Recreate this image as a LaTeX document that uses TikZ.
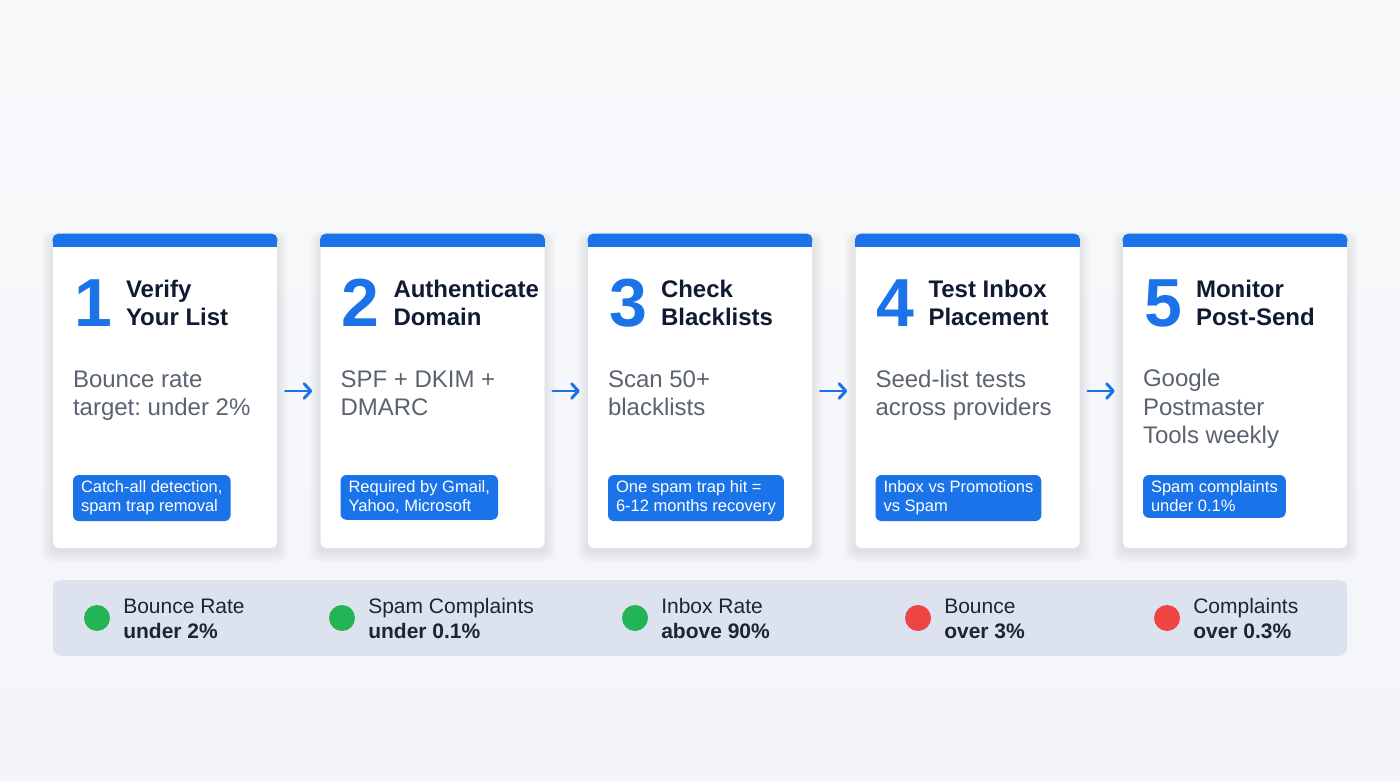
\documentclass[tikz,border=0pt]{standalone}
\usepackage{fontspec}
\setmainfont{Liberation Sans}
\usetikzlibrary{calc,arrows.meta}
\frenchspacing

\definecolor{pagebg}{HTML}{F3F5F9}
\definecolor{pagetop}{HTML}{F8F9FB}
\definecolor{accent}{HTML}{1A73E8}
\definecolor{titleink}{HTML}{111A33}
\definecolor{bodyink}{HTML}{5B6371}
\definecolor{stripbg}{HTML}{DDE3EE}
\definecolor{okdot}{HTML}{22B455}
\definecolor{baddot}{HTML}{EF4444}
\definecolor{stripink}{HTML}{1F2433}

\tikzset{
  card/.style={fill=white, rounded corners=4pt, minimum width=168pt, minimum height=235.5pt, inner sep=0pt},
  stepnum/.style={anchor=base west, inner sep=0pt, text=accent, font=\fontsize{51}{51}\selectfont\bfseries},
  steptitle/.style={anchor=base west, inner sep=0pt, align=left, text=titleink, font=\fontsize{18}{21}\selectfont\bfseries},
  stepbody/.style={anchor=base west, inner sep=0pt, align=left, text=bodyink, font=\fontsize{18}{21.5}\selectfont},
  steptag/.style={anchor=north west, fill=accent, text=white, rounded corners=4.5pt, inner xsep=6pt, inner ysep=4.5pt,
    align=left, font=\fontsize{12.4}{14}\selectfont},
  flow/.style={draw=accent, line width=2.2pt, line cap=round, -{Straight Barb[length=5pt,width=11pt,round]},
    shorten <=6pt, shorten >=6pt},
  dot/.style={circle, minimum size=19.5pt, inner sep=0pt},
  gauge/.style={anchor=base west, inner sep=0pt, align=left, text=stripink, font=\fontsize{15.75}{18.75}\selectfont}
}

\begin{document}
\begin{tikzpicture}[x=0.75pt, y=-0.75pt]
  \useasboundingbox (0,0) rectangle (1400,781);
  \shade[top color=pagetop, bottom color=pagebg] (0,0) rectangle (1400,781);

  % step cards (multi-line nodes sit on their last baseline)
  \foreach \i/\num/\head/\body/\nb/\tag in {
      1/1/{Verify\\Your List}/{Bounce rate\\target: under 2\%}/182/{Catch-all detection,\\spam trap removal},
      2/2/{Authenticate\\Domain}/{SPF + DKIM +\\DMARC}/182/{Required by Gmail,\\Yahoo, Microsoft},
      3/3/{Check\\Blacklists}/{Scan 50+\\blacklists}/182/{One spam trap hit =\\6-12 months recovery},
      4/4/{Test Inbox\\Placement}/{Seed-list tests\\across providers}/182/{Inbox vs Promotions\\vs Spam},
      5/5/{Monitor\\Post-Send}/{Google\\Postmaster\\Tools weekly}/210/{Spam complaints\\under 0.1\%}}
  {
    \pgfmathsetmacro\cx{165+267.5*(\i-1)}
    \foreach \k in {1,...,7}{
      \pgfmathsetmacro\rr{4+\k*0.5}
      \fill[black, opacity=0.012, rounded corners=\rr pt]
        ({\cx-112-\k*1.6}, {234+3-\k*0.8}) rectangle ({\cx+112+\k*1.6}, {548+3+\k*1.6});
    }
    \node[card] (c\i) at (\cx, 391) {};
    \fill[accent, rounded corners=4pt] (c\i.north west) rectangle ($(c\i.north east)+(0,13)$);
    \fill[accent] ($(c\i.north west)+(0,6)$) rectangle ($(c\i.north east)+(0,13)$);
    \node[stepnum] (n\i) at ($(c\i.north west)+(21,93)$) {\num};
    \node[steptitle] (h\i) at ($(c\i.north west)+(73,92)$) {\head};
    \node[stepbody] (b\i) at ($(c\i.north west)+(20,\nb)$) {\body};
    \node[steptag] (t\i) at ($(c\i.north west)+(20,241)$) {\tag};
  }

  % arrows between cards
  \foreach \a/\b in {1/2,2/3,3/4,4/5}
    \draw[flow] (c\a) -- (c\b);

  % threshold strip
  \node[fill=stripbg, rounded corners=6pt, minimum width=970.5pt, minimum height=57pt, inner sep=0pt] (strip) at (700,618) {};
  \foreach \j/\x/\col/\lbl/\val in {
      1/97/okdot/Bounce Rate/under 2\%,
      2/342/okdot/Spam Complaints/under 0.1\%,
      3/635/okdot/Inbox Rate/above 90\%,
      4/918/baddot/Bounce/over 3\%,
      5/1167/baddot/Complaints/over 0.3\%}
  {
    \node[dot, fill=\col] (d\j) at (\x,618) {};
    \node[gauge] (g\j) at ($(d\j.center)+(26,20)$) {\lbl\\\textbf{\val}};
  }
\end{tikzpicture}
\end{document}
